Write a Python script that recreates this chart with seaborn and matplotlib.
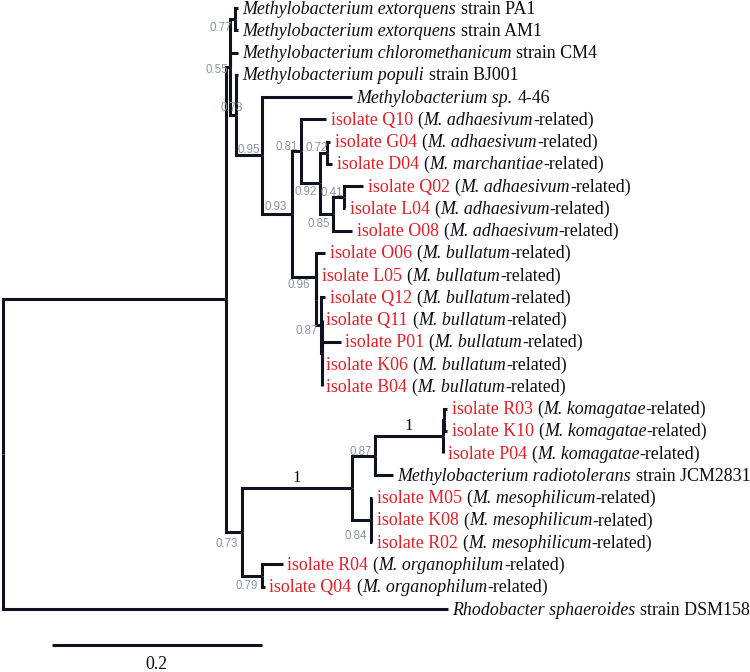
import matplotlib
matplotlib.use("Agg")
import matplotlib.pyplot as plt
import seaborn as sns
import pandas as pd

# --- data: tree -----------------------------------------------
# tips from top to bottom
leaf_order = ["PA1", "AM1", "CM4", "BJ001", "4-46", "Q10", "G04", "D04", "Q02", "L04",
              "O08", "O06", "L05", "Q12", "Q11", "P01", "K06", "B04", "R03", "K10",
              "P04", "JCM2831", "M05", "K08", "R02", "R04", "Q04", "DSM158"]

# edges: child -> parent with branch length (substitutions / site)
edge_child = ["nT", "DSM158", "n55", "n73b", "n77", "CM4", "n73a", "PA1", "AM1", "BJ001",
              "n95", "4-46", "n93", "n81", "n96", "Q10", "n92", "n72", "n85", "G04",
              "D04", "n41", "O08", "Q02", "L04", "O06", "n96i", "L05", "n87", "Q12",
              "n87i", "Q11", "P01", "K06", "B04", "n1", "n79", "n87b", "n84", "n1b",
              "JCM2831", "n1bi", "P04", "R03", "K10", "M05", "K08", "R02", "R04", "Q04"]
edge_parent = ["root", "root", "nT", "nT", "n55", "n55", "n55", "n77", "n77", "n73a",
               "n73a", "n95", "n95", "n93", "n93", "n81", "n81", "n92", "n92", "n72",
               "n72", "n85", "n85", "n41", "n41", "n96", "n96", "n96i", "n96i", "n87",
               "n87", "n87i", "n87i", "n87i", "n87i", "n73b", "n73b", "n1", "n1", "n87b",
               "n87b", "n1b", "n1b", "n1bi", "n1bi", "n84", "n84", "n84", "n79", "n79"]
edge_len = [0.2124, 0.4238, 0.0038, 0.0152, 0.0048, 0.0076, 0.0057, 0.0029, 0.0029, 0.0019,
            0.0248, 0.0857, 0.0286, 0.0086, 0.0229, 0.0238, 0.0181, 0.0067, 0.0124, 0.0029,
            0.0048, 0.0105, 0.0181, 0.0181, 0.0010, 0.0086, 0.0, 0.0010, 0.0048, 0.0038,
            0.0005, 0.0, 0.0181, 0.0, 0.0, 0.1048, 0.0190, 0.0219, 0.0181, 0.0648,
            0.0171, 0.0005, 0.0, 0.0033, 0.0033, 0.0010, 0.0010, 0.0010, 0.0200, 0.0029]

# posterior support
support_node = ["n77", "n55", "n73a", "n95", "n93", "n81", "n72", "n92", "n41", "n85",
                "n96", "n87", "n1", "n87b", "n1b", "n84", "n73b", "n79"]
support_val = [0.77, 0.55, 0.73, 0.95, 0.93, 0.81, 0.72, 0.92, 0.41, 0.85,
               0.96, 0.87, 1, 0.87, 1, 0.84, 0.73, 0.79]

# reference strains: italic name, plain suffix
ref_names = {
    "PA1": ("Methylobacterium extorquens", "strain PA1"),
    "AM1": ("Methylobacterium extorquens", "strain AM1"),
    "CM4": ("Methylobacterium chloromethanicum", "strain CM4"),
    "BJ001": ("Methylobacterium populi", "strain BJ001"),
    "4-46": ("Methylobacterium sp.", "4-46"),
    "JCM2831": ("Methylobacterium radiotolerans", "strain JCM2831"),
    "DSM158": ("Rhodobacter sphaeroides", "strain DSM158"),
}
# isolates and their closest species
isolate_rel = {
    "Q10": "adhaesivum", "G04": "adhaesivum", "D04": "marchantiae", "Q02": "adhaesivum",
    "L04": "adhaesivum", "O08": "adhaesivum", "O06": "bullatum", "L05": "bullatum",
    "Q12": "bullatum", "Q11": "bullatum", "P01": "bullatum", "K06": "bullatum",
    "B04": "bullatum", "R03": "komagatae", "K10": "komagatae", "P04": "komagatae",
    "M05": "mesophilicum", "K08": "mesophilicum", "R02": "mesophilicum",
    "R04": "organophilum", "Q04": "organophilum",
}
scale_len = 0.2

# --- layout ---------------------------------------------------
parent_of = dict(zip(edge_child, edge_parent))
length_of = dict(zip(edge_child, edge_len))
kids = {}
for c, p in zip(edge_child, edge_parent):
    kids.setdefault(p, []).append(c)


def xpos(n):
    return 0.0 if n == "root" else xpos(parent_of[n]) + length_of[n]


def ypos(n):
    if n not in kids:
        return leaf_order.index(n)
    ys = [ypos(c) for c in kids[n]]
    return (min(ys) + max(ys)) / 2


rows = []
for i, c in enumerate(edge_child):
    p = parent_of[c]
    px, py, cx, cy = xpos(p), ypos(p), xpos(c), ypos(c)
    rows += [(i, px, py), (i, px, cy), (i, cx, cy)]
seg = pd.DataFrame(rows, columns=["edge", "x", "y"])

# --- style ----------------------------------------------------
sns.set_theme(style="white")
SERIF = ["Liberation Serif", "DejaVu Serif"]
SANS = ["Liberation Sans", "DejaVu Sans"]
BRANCH = "#10121f"
RED = "#e41f26"
INK = "#0b0b16"
GRAY = "#8a979d"
FS = 12.9
PX = 0.72  # points per pixel at 100 dpi
SPACE = 3.2  # word space in points
BASE = 5.5 * PX  # baseline below branch

# support label offsets (px): right edge vs node x, centre vs node y
lab_off = {
    "n77": (-3, 9), "n55": (-2, 3), "n73a": (7, -7), "n95": (-2, -5.5),
    "n93": (-5, -7), "n81": (-3, -4), "n72": (1, -5), "n92": (-3, 9),
    "n41": (-1, -4), "n85": (-3, 10), "n96": (-6, 8.5), "n87": (-3, 6),
    "n87b": (-3, -4), "n84": (-4, 16), "n73b": (-4, 12), "n79": (-4, 10),
}

fig = plt.figure(figsize=(7.5, 6.72), dpi=100)
ax = fig.add_axes([0, 0, 1, 1])
renderer = fig.canvas.get_renderer()

sns.lineplot(data=seg, x="x", y="y", units="edge", estimator=None, sort=False,
             color=BRANCH, linewidth=2.2, ax=ax,
             solid_joinstyle="miter", solid_capstyle="butt")


def tip_label(leaf):
    if leaf in isolate_rel:
        pieces = [(f"isolate {leaf}", RED, "normal", 0),
                  ("(", INK, "normal", SPACE),
                  (f"M. {isolate_rel[leaf]}", INK, "italic", 0),
                  ("-related)", INK, "normal", 0.3)]
    else:
        name, suffix = ref_names[leaf]
        pieces = [(name, INK, "italic", 0), (suffix, INK, "normal", SPACE)]
    off = 4.5 * PX
    for txt, col, style, gap in pieces:
        off += gap
        t = ax.annotate(txt, xy=(xpos(leaf), ypos(leaf)), xytext=(off, -BASE),
                        textcoords="offset points", ha="left", va="baseline",
                        color=col, fontstyle=style, family=SERIF, fontsize=FS)
        off += t.get_window_extent(renderer).width * 72 / fig.dpi


for leaf in leaf_order:
    tip_label(leaf)

for n, v in zip(support_node, support_val):
    if v == 1:
        mx = (xpos(parent_of[n]) + xpos(n)) / 2
        ax.annotate("1", xy=(mx, ypos(n)), xytext=(0, 2 * PX), textcoords="offset points",
                    ha="center", va="bottom", color=INK, family=SERIF, fontsize=12)
    else:
        dx, dy = lab_off[n]
        ax.annotate(f"{v:.2f}", xy=(xpos(n), ypos(n)), xytext=(dx * PX, -dy * PX),
                    textcoords="offset points", ha="right", va="center",
                    color=GRAY, family=SANS, fontsize=8.3)

# scale bar
bar_x0 = 0.0464
bar_y = 28.62
ax.plot([bar_x0, bar_x0 + scale_len], [bar_y, bar_y], color=BRANCH, lw=2.2,
        solid_capstyle="butt")
ax.text(bar_x0 + scale_len / 2, 29.5, f"{scale_len:g}", ha="center", va="center",
        color=INK, family=SERIF, fontsize=FS)

ax.set_xlim(-3 / 1050, 747 / 1050)
ax.set_ylim(29.83, -0.36)
ax.axis("off")

fig.savefig("out.png", dpi=100)
